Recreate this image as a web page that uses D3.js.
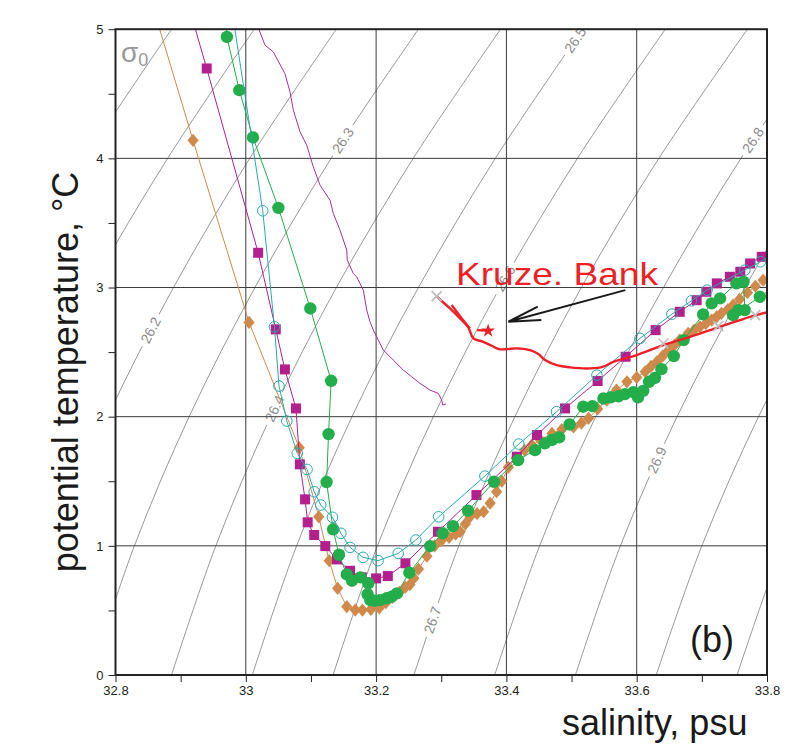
<!DOCTYPE html>
<html><head><meta charset="utf-8">
<script src="https://cdn.jsdelivr.net/npm/d3@7"></script>
<style>
body{margin:0;background:#fff}
svg{display:block}
text{font-family:"Liberation Sans",Arial,sans-serif}
</style>
</head><body>
<svg id="chart" width="809" height="744"></svg>
<script>
// ---- axes ----
const salinityTicks = [32.8, 32.9, 33.0, 33.1, 33.2, 33.3, 33.4, 33.5, 33.6, 33.7, 33.8];
const salinityTickLabels = ["32.8", "", "33", "", "33.2", "", "33.4", "", "33.6", "", "33.8"];
const temperatureTicks = [0, 0.5, 1, 1.5, 2, 2.5, 3, 3.5, 4, 4.5, 5];
const temperatureTickLabels = ["0", "", "1", "", "2", "", "3", "", "4", "", "5"];
const salinityGrid = [33.0, 33.2, 33.4, 33.6];
const temperatureGrid = [1, 2, 3, 4];

// ---- isopycnals (sigma-0): salinity of each level at temperatures 0..5 °C ----
const sigmaLevels = [26.0, 26.1, 26.2, 26.3, 26.4, 26.5, 26.6, 26.7, 26.8, 26.9, 27.0, 27.1];
const sigmaTemps = [0, 1, 2, 3, 4, 5];
const sigmaSalinity = [
  [32.391, 32.456, 32.539, 32.638, 32.754, 32.886],
  [32.515, 32.580, 32.663, 32.763, 32.880, 33.013],
  [32.638, 32.705, 32.788, 32.889, 33.006, 33.139],
  [32.762, 32.829, 32.913, 33.014, 33.131, 33.265],
  [32.886, 32.954, 33.038, 33.139, 33.257, 33.391],
  [33.010, 33.078, 33.163, 33.265, 33.383, 33.517],
  [33.134, 33.202, 33.288, 33.390, 33.509, 33.644],
  [33.258, 33.327, 33.413, 33.515, 33.634, 33.770],
  [33.382, 33.451, 33.537, 33.641, 33.760, 33.896],
  [33.506, 33.575, 33.662, 33.766, 33.886, 34.022],
  [33.630, 33.700, 33.787, 33.891, 34.012, 34.148],
  [33.754, 33.824, 33.912, 34.016, 34.137, 34.274]
];
const sigmaLabelLevels = [26.2, 26.3, 26.4, 26.5, 26.6, 26.7, 26.8, 26.9];
const sigmaLabelTemps = [2.67, 4.14, 2.064, 4.915, 3.07, 0.426, 4.14, 1.664];

// ---- station profiles: [salinity, potential temperature] ----
const diamondStation = [[32.85,5.3],[32.919,4.14],[33.005,2.73],[33.082,1.76],[33.112,1.225],[33.128,0.885],[33.141,0.671],[33.155,0.529],[33.168,0.503],[33.179,0.503],[33.192,0.508],[33.205,0.52],[33.215,0.56],[33.225,0.6],[33.236,0.64],[33.245,0.68],[33.252,0.70],[33.258,0.75],[33.265,0.82],[33.278,0.92],[33.29,1.0],[33.3,1.04],[33.312,1.066],[33.322,1.09],[33.329,1.109],[33.337,1.17],[33.344,1.225],[33.355,1.25],[33.365,1.264],[33.375,1.33],[33.385,1.419],[33.393,1.5],[33.403,1.608],[33.415,1.68],[33.428,1.74],[33.439,1.78],[33.452,1.82],[33.47,1.87],[33.485,1.9],[33.503,1.92],[33.515,1.95],[33.526,1.987],[33.54,2.06],[33.554,2.128],[33.569,2.206],[33.585,2.27],[33.6,2.304],[33.613,2.348],[33.622,2.39],[33.631,2.425],[33.64,2.47],[33.649,2.515],[33.658,2.555],[33.666,2.593],[33.679,2.645],[33.688,2.67],[33.697,2.696],[33.706,2.72],[33.715,2.748],[33.723,2.775],[33.73,2.8],[33.74,2.83],[33.748,2.864],[33.758,2.91],[33.77,2.96],[33.782,3.01],[33.794,3.057],[33.81,3.12]];
const squareStation = [[32.894,5.5],[32.94,4.696],[33.019,3.269],[33.046,2.676],[33.06,2.366],[33.077,2.064],[33.083,1.631],[33.091,1.36],[33.095,1.182],[33.105,1.084],[33.122,0.998],[33.14,0.895],[33.16,0.807],[33.178,0.756],[33.2,0.748],[33.218,0.766],[33.245,0.865],[33.295,1.109],[33.354,1.393],[33.416,1.69],[33.447,1.858],[33.49,2.064],[33.54,2.276],[33.583,2.464],[33.629,2.67],[33.666,2.812],[33.692,2.902],[33.707,2.967],[33.723,3.032],[33.743,3.083],[33.759,3.122],[33.774,3.186],[33.792,3.238],[33.81,3.3]];
const dotStation = [[32.968,5.15],[32.971,4.94],[32.99,4.528],[33.011,4.162],[33.05,3.617],[33.099,2.838],[33.131,2.278],[33.127,1.865],[33.124,1.494],[33.134,1.128],[33.143,0.931],[33.155,0.779],[33.163,0.73],[33.176,0.756],[33.188,0.71],[33.187,0.625],[33.191,0.58],[33.198,0.575],[33.206,0.58],[33.216,0.594],[33.224,0.606],[33.232,0.632],[33.251,0.792],[33.283,0.998],[33.302,1.097],[33.318,1.153],[33.341,1.272],[33.381,1.496],[33.418,1.664],[33.444,1.741],[33.459,1.793],[33.47,1.82],[33.481,1.84],[33.497,1.94],[33.518,2.077],[33.532,2.082],[33.549,2.141],[33.56,2.15],[33.572,2.158],[33.582,2.175],[33.595,2.19],[33.602,2.15],[33.61,2.2],[33.619,2.27],[33.628,2.3],[33.638,2.368],[33.657,2.469],[33.672,2.593],[33.702,2.792],[33.715,2.877],[33.728,2.916],[33.753,3.032],[33.764,3.044],[33.766,2.825],[33.756,2.825],[33.748,2.786],[33.789,2.928],[33.81,3.0]];
const ringStation = [[32.971,5.4],[33.026,3.594],[33.044,2.696],[33.051,2.237],[33.063,1.966],[33.079,1.716],[33.094,1.592],[33.105,1.419],[33.115,1.316],[33.133,1.221],[33.146,1.097],[33.16,0.988],[33.18,0.911],[33.203,0.885],[33.234,0.942],[33.261,1.045],[33.296,1.225],[33.367,1.54],[33.419,1.788],[33.477,2.038],[33.539,2.322],[33.605,2.606],[33.654,2.794],[33.684,2.897],[33.708,2.98],[33.766,3.135],[33.79,3.2],[33.81,3.26]];
const ctdProfile = [[33.02,5.0],[33.0295,4.876],[33.0422,4.824],[33.060,4.657],[33.0678,4.515],[33.073,4.373],[33.0832,4.205],[33.0935,4.102],[33.1036,3.934],[33.1139,3.793],[33.1293,3.676],[33.1343,3.574],[33.1446,3.444],[33.1549,3.29],[33.1558,3.212],[33.165,3.109],[33.1702,3.083],[33.1804,2.98],[33.1856,2.825],[33.1906,2.735],[33.1957,2.671],[33.211,2.516],[33.2264,2.438],[33.2417,2.361],[33.2546,2.309],[33.2674,2.258],[33.2827,2.206],[33.2955,2.18],[33.3007,2.128],[33.3022,2.09],[33.3073,2.098]];
const kruzeBank = [[33.293,2.933],[33.298,2.908],[33.3134,2.838],[33.3288,2.761],[33.3415,2.692],[33.3492,2.606],[33.3645,2.58],[33.3774,2.549],[33.3886,2.523],[33.4005,2.523],[33.4158,2.529],[33.4362,2.515],[33.449,2.485],[33.4593,2.438],[33.4772,2.399],[33.4976,2.382],[33.5283,2.374],[33.5487,2.388],[33.564,2.425],[33.60,2.477],[33.6408,2.554],[33.6818,2.618],[33.7278,2.696],[33.7738,2.773],[33.802,2.812]];
const kruzeBankStroke = [[33.316,2.864],[33.33,2.77],[33.344,2.683]];
const kruzeBankSpot = [[33.355,2.67],[33.372,2.665]];
const kruzeBankCrosses = [[33.293,2.933],[33.641,2.567],[33.725,2.701],[33.782,2.786]];
const arrowTail = [33.5825, 2.98];
const arrowTip = [33.403, 2.735];

// ---- layout ----
const svg = d3.select("#chart");
const X0 = 115.5, X1 = 767, Y0 = 675, Y1 = 29.2;
const x = d3.scaleLinear().domain([32.8, 33.8]).range([X0, X1]);
const y = d3.scaleLinear().domain([0, 5]).range([Y0, Y1]);

svg.append("defs").append("clipPath").attr("id", "plot")
  .append("rect").attr("x", X0).attr("y", Y1).attr("width", X1 - X0).attr("height", Y0 - Y1);

const line = d3.line().x(d => x(d[0])).y(d => y(d[1]));
const smooth = d3.line().x(d => x(d[0])).y(d => y(d[1])).curve(d3.curveCatmullRom.alpha(0.5));

// isopycnals
const gIso = svg.append("g").attr("clip-path", "url(#plot)");
const isoPaths = sigmaLevels.map((s, i) =>
  gIso.append("path")
    .attr("d", smooth(sigmaTemps.map((t, j) => [sigmaSalinity[i][j], t])))
    .attr("fill", "none").attr("stroke", "#8c8c8c").attr("stroke-width", 0.9).node());

// level labels sit on their line, rotated along it, with the line broken behind them
sigmaLabelLevels.forEach((s, k) => {
  const node = isoPaths[sigmaLevels.indexOf(s)];
  const L = node.getTotalLength();
  const ty = y(sigmaLabelTemps[k]);
  let best = 0, bd = 1e9;
  for (let l = 0; l <= L; l += 0.5) { const p = node.getPointAtLength(l); const dd = Math.abs(p.y - ty); if (dd < bd) { bd = dd; best = l; } }
  const p = node.getPointAtLength(best), p1 = node.getPointAtLength(Math.max(0, best - 3)), p2 = node.getPointAtLength(Math.min(L, best + 3));
  const ang = Math.atan2(p2.y - p1.y, p2.x - p1.x) * 180 / Math.PI;
  const g = gIso.append("g").attr("transform", `translate(${p.x},${p.y}) rotate(${ang})`);
  g.append("rect").attr("x", -18).attr("y", -7).attr("width", 36).attr("height", 14).attr("fill", "#fff");
  g.append("text").attr("text-anchor", "middle").attr("dy", "0.36em").attr("font-size", 14)
    .attr("fill", "#8c8c8c").text(s.toFixed(1));
});

// grid
const gGrid = svg.append("g").attr("stroke", "#3a3a3a").attr("stroke-width", 1);
salinityGrid.forEach(s => gGrid.append("line").attr("x1", x(s)).attr("x2", x(s)).attr("y1", Y0).attr("y2", Y1));
temperatureGrid.forEach(t => gGrid.append("line").attr("x1", X0).attr("x2", X1).attr("y1", y(t)).attr("y2", y(t)));

// axes
const xAxis = d3.axisBottom(x).tickValues(salinityTicks).tickSize(7).tickPadding(4)
  .tickFormat((d, i) => salinityTickLabels[i]);
const yAxis = d3.axisLeft(y).tickValues(temperatureTicks).tickSize(7).tickPadding(5)
  .tickFormat((d, i) => temperatureTickLabels[i]);
const gx = svg.append("g").attr("transform", `translate(0,${Y0})`).call(xAxis);
const gy = svg.append("g").attr("transform", `translate(${X0},0)`).call(yAxis);
[gx, gy].forEach(g => {
  g.select(".domain").remove();
  g.selectAll("line").attr("stroke", "#222");
  g.selectAll("text").attr("font-size", 13).attr("fill", "#222")
    .attr("font-family", "'Liberation Sans Narrow','Liberation Sans',Arial,sans-serif");
});

// profiles
const gData = svg.append("g").attr("clip-path", "url(#plot)");
function profile(data, color) {
  gData.append("path").attr("d", line(data)).attr("fill", "none").attr("stroke", color).attr("stroke-width", 1);
}
const cDiamond = "#cf8a4b", cSquare = "#b41f8e", cDot = "#23ad4b", cRing = "#2aa9ad";

profile(diamondStation, cDiamond);
gData.append("g").selectAll("path").data(diamondStation).join("path")
  .attr("transform", d => `translate(${x(d[0])},${y(d[1])})`)
  .attr("d", "M0,-6.6L5.6,0L0,6.6L-5.6,0Z").attr("fill", cDiamond);

profile(squareStation, cSquare);
gData.append("g").selectAll("rect").data(squareStation).join("rect")
  .attr("x", d => x(d[0]) - 5).attr("y", d => y(d[1]) - 5).attr("width", 10).attr("height", 10).attr("fill", cSquare);

profile(dotStation, cDot);
gData.append("g").selectAll("circle").data(dotStation).join("circle")
  .attr("cx", d => x(d[0])).attr("cy", d => y(d[1])).attr("r", 6.2).attr("fill", cDot);

profile(ringStation, cRing);
gData.append("g").selectAll("circle").data(ringStation).join("circle")
  .attr("cx", d => x(d[0])).attr("cy", d => y(d[1])).attr("r", 5.3)
  .attr("fill", "none").attr("stroke", cRing).attr("stroke-width", 1);

gData.append("path").attr("d", line(ctdProfile)).attr("fill", "none").attr("stroke", "#a3309e").attr("stroke-width", 1);

// Kruze Bank
const cRed = "#ee1f26";
gData.append("path").attr("d", smooth(kruzeBank)).attr("fill", "none").attr("stroke", cRed).attr("stroke-width", 2.4);
gData.append("path").attr("d", line(kruzeBankStroke)).attr("fill", "none").attr("stroke", cRed).attr("stroke-width", 2.4);
gData.append("path").attr("d", line(kruzeBankSpot)).attr("fill", "none").attr("stroke", cRed).attr("stroke-width", 2.4);
gData.append("path").attr("transform", `translate(${x(kruzeBankSpot[1][0])},${y(kruzeBankSpot[1][1])})`)
  .attr("d", d3.symbol(d3.symbolStar, 60)()).attr("fill", cRed);
gData.append("g").selectAll("path").data(kruzeBankCrosses).join("path")
  .attr("transform", d => `translate(${x(d[0])},${y(d[1])})`)
  .attr("d", "M-5,-5L5,5M-5,5L5,-5").attr("stroke", "#bdbdbd").attr("stroke-width", 1.6);

// frame
svg.append("rect").attr("x", X0).attr("y", Y1).attr("width", X1 - X0).attr("height", Y0 - Y1)
  .attr("fill", "none").attr("stroke", "#222").attr("stroke-width", 2);

// arrow
{
  const tx = x(arrowTip[0]), ty = y(arrowTip[1]), sx = x(arrowTail[0]), sy = y(arrowTail[1]);
  const a = Math.atan2(sy - ty, sx - tx), len = 33, spread = 12 * Math.PI / 180;
  const b1 = [tx + len * Math.cos(a - spread), ty + len * Math.sin(a - spread)];
  const b2 = [tx + len * Math.cos(a + spread), ty + len * Math.sin(a + spread)];
  svg.append("path").attr("d", `M${sx},${sy}L${tx},${ty}M${b1[0]},${b1[1]}L${tx},${ty}L${b2[0]},${b2[1]}`)
    .attr("fill", "none").attr("stroke", "#1a1a1a").attr("stroke-width", 2);
}

// texts
svg.append("text").attr("x", 456).attr("y", 285).attr("font-size", 32).attr("fill", cRed)
  .attr("textLength", 202).attr("lengthAdjust", "spacingAndGlyphs").text("Kruze. Bank");
svg.append("text").attr("x", 690).attr("y", 652).attr("font-size", 36).attr("fill", "#1a1a1a").text("(b)");
const sg = svg.append("text").attr("x", 121).attr("y", 62).attr("fill", "#999");
sg.append("tspan").attr("font-size", 28).text("σ");
sg.append("tspan").attr("font-size", 18).attr("dy", 4).text("0");
svg.append("text").attr("transform", "translate(78,372) rotate(-90)").attr("text-anchor", "middle")
  .attr("font-size", 36).attr("fill", "#1a1a1a").text("potential temperature, °C");
svg.append("text").attr("x", 562).attr("y", 735).attr("font-size", 36).attr("fill", "#1a1a1a").text("salinity, psu");
</script>
</body></html>
